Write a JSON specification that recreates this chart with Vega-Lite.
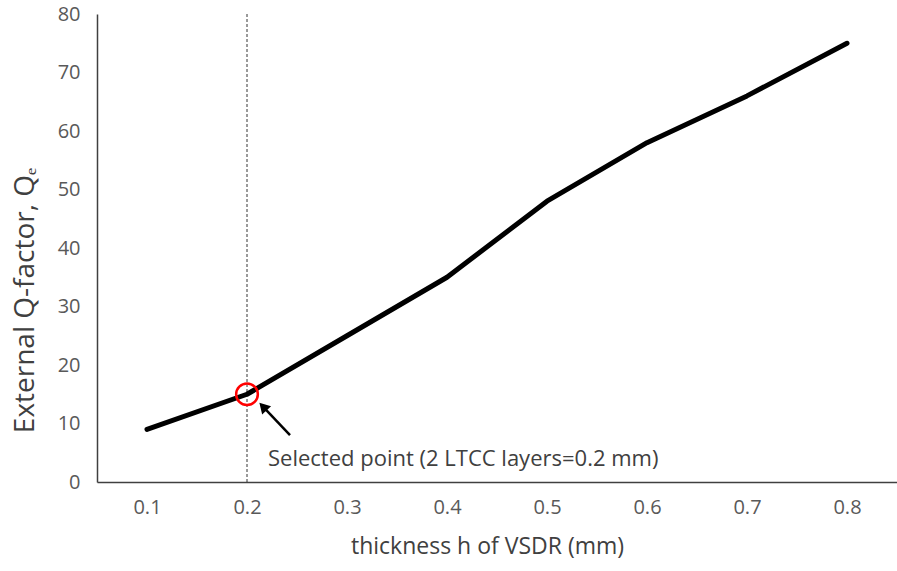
{
  "$schema": "https://vega.github.io/schema/vega-lite/v6.json",
  "width": 800,
  "height": 468,
  "autosize": {"type": "none"},
  "padding": {"left": 97, "top": 14, "right": 0, "bottom": 89},
  "config": {
    "view": {"stroke": null},
    "font": "Open Sans",
    "axis": {"grid": false, "ticks": false, "domainColor": "#404040", "domainWidth": 1.5, "labelColor": "#595959", "labelFontSize": 20, "labelFont": "Open Sans", "titleFont": "Open Sans", "titleFontWeight": "normal", "titleColor": "#404040"}
  },
  "datasets": {
    "curve": [
      {"h": 0.1, "q": 9},
      {"h": 0.2, "q": 15},
      {"h": 0.3, "q": 25},
      {"h": 0.4, "q": 35},
      {"h": 0.5, "q": 48},
      {"h": 0.6, "q": 58},
      {"h": 0.7, "q": 66},
      {"h": 0.8, "q": 75}
    ],
    "marker": [{"h": 0.2, "q": 15}],
    "vline": [{"h": 0.2, "y0": 0, "y1": 80}],
    "arrow": [{"x0": 0.243, "y0": 8.0, "x1": 0.216, "y1": 12.9}],
    "label": [{"h": 0.221, "q": 4.0, "text": "Selected point (2 LTCC layers=0.2 mm)"}]
  },
  "layer": [
    {
      "data": {"name": "vline"},
      "mark": {"type": "rule", "color": "#000000", "strokeWidth": 0.8, "strokeDash": [3, 2]},
      "encoding": {
        "x": {"field": "h", "type": "quantitative", "scale": {"domain": [0.05, 0.85], "nice": false, "zero": false},
          "axis": {"values": [0.1, 0.2, 0.3, 0.4, 0.5, 0.6, 0.7, 0.8], "format": ".1f", "labelPadding": 15, "title": "thickness h of VSDR (mm)", "titleFontSize": 23, "titlePadding": 18, "titleX": 390}},
        "y": {"field": "y0", "type": "quantitative", "scale": {"domain": [0, 80], "nice": false},
          "axis": {"values": [0, 10, 20, 30, 40, 50, 60, 70, 80], "labelPadding": 17, "title": "External Q-factor, Qₑ", "titleFontSize": 28, "titlePadding": 18, "titleY": 286}},
        "y2": {"field": "y1"}
      }
    },
    {
      "data": {"name": "curve"},
      "mark": {"type": "line", "color": "#000000", "strokeWidth": 5, "strokeCap": "round", "strokeJoin": "round"},
      "encoding": {
        "x": {"field": "h", "type": "quantitative"},
        "y": {"field": "q", "type": "quantitative"}
      }
    },
    {
      "data": {"name": "marker"},
      "mark": {"type": "point", "shape": "circle", "size": 470, "stroke": "#ff0000", "strokeWidth": 2.5, "filled": false, "opacity": 1},
      "encoding": {
        "x": {"field": "h", "type": "quantitative"},
        "y": {"field": "q", "type": "quantitative"}
      }
    },
    {
      "data": {"name": "arrow"},
      "mark": {"type": "rule", "color": "#000000", "strokeWidth": 2.5},
      "encoding": {
        "x": {"field": "x0", "type": "quantitative"},
        "y": {"field": "y0", "type": "quantitative"},
        "x2": {"field": "x1"},
        "y2": {"field": "y1"}
      }
    },
    {
      "data": {"name": "arrow"},
      "mark": {"type": "point", "shape": "triangle-up", "size": 150, "filled": true, "color": "#000000", "opacity": 1, "angle": 317},
      "encoding": {
        "x": {"field": "x1", "type": "quantitative"},
        "y": {"field": "y1", "type": "quantitative"}
      }
    },
    {
      "data": {"name": "label"},
      "mark": {"type": "text", "align": "left", "baseline": "middle", "fontSize": 22, "color": "#404040", "font": "Open Sans"},
      "encoding": {
        "x": {"field": "h", "type": "quantitative"},
        "y": {"field": "q", "type": "quantitative"},
        "text": {"field": "text"}
      }
    }
  ]
}
